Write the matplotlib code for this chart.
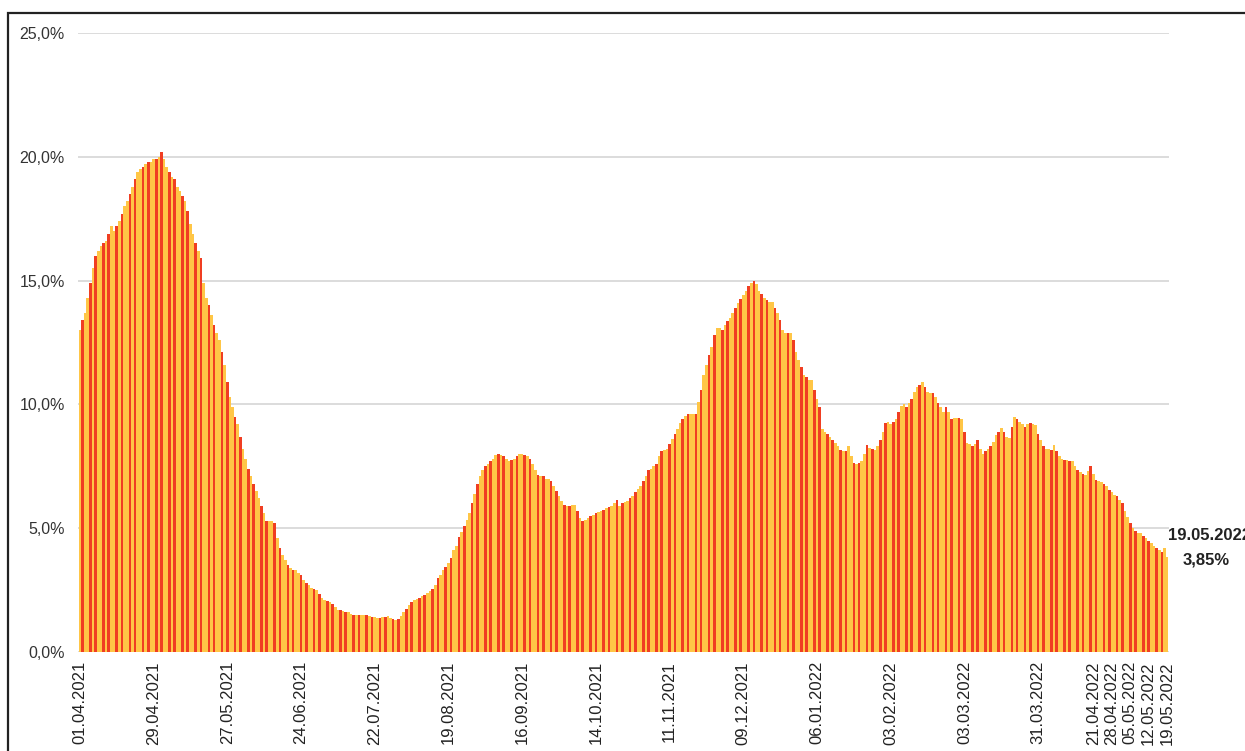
import numpy as np
import pandas as pd
import matplotlib
matplotlib.use("Agg")
import matplotlib.pyplot as plt
from matplotlib.ticker import FuncFormatter

# -------------------------------
# DATA (daily share, %, 01.04.2021 - 19.05.2022)
# -------------------------------
start_date = "2021-04-01"
share = [
    13.0, 13.4, 13.7, 14.3, 14.9, 15.5, 16.0,
    16.2, 16.4, 16.5, 16.6, 16.9, 17.2, 17.0,
    17.2, 17.4, 17.7, 18.0, 18.2, 18.5, 18.8,
    19.1, 19.4, 19.5, 19.6, 19.7, 19.8, 19.8,
    19.9, 19.9, 20.0, 20.2, 19.9, 19.6, 19.4,
    19.2, 19.1, 18.8, 18.6, 18.4, 18.2, 17.8,
    17.3, 16.9, 16.5, 16.2, 15.9, 14.9, 14.3,
    14.0, 13.6, 13.2, 12.9, 12.6, 12.1, 11.6,
    10.9, 10.3, 9.9, 9.5, 9.2, 8.7, 8.2,
    7.8, 7.4, 7.1, 6.8, 6.5, 6.2, 5.9,
    5.6, 5.3, 5.3, 5.3, 5.2, 4.6, 4.2,
    3.9, 3.7, 3.5, 3.4, 3.3, 3.3, 3.2,
    3.1, 2.9, 2.8, 2.7, 2.6, 2.55, 2.5,
    2.35, 2.2, 2.1, 2.05, 2.0, 1.95, 1.8,
    1.7, 1.7, 1.65, 1.6, 1.6, 1.55, 1.5,
    1.5, 1.5, 1.5, 1.5, 1.5, 1.45, 1.4,
    1.4, 1.37, 1.38, 1.4, 1.42, 1.45, 1.38,
    1.32, 1.3, 1.35, 1.45, 1.6, 1.75, 1.9,
    2.0, 2.1, 2.15, 2.2, 2.25, 2.3, 2.4,
    2.45, 2.55, 2.7, 3.0, 3.1, 3.3, 3.45,
    3.6, 3.8, 4.1, 4.3, 4.65, 4.85, 5.1,
    5.35, 5.6, 6.0, 6.4, 6.8, 7.1, 7.35,
    7.5, 7.6, 7.7, 7.8, 7.95, 8.0, 7.95,
    7.9, 7.8, 7.7, 7.75, 7.8, 7.9, 8.0,
    8.0, 7.95, 7.9, 7.8, 7.6, 7.35, 7.15,
    7.1, 7.1, 7.0, 7.0, 6.9, 6.7, 6.5,
    6.3, 6.1, 5.95, 5.9, 5.9, 5.95, 5.95,
    5.7, 5.4, 5.3, 5.35, 5.4, 5.5, 5.55,
    5.6, 5.65, 5.7, 5.75, 5.8, 5.85, 5.9,
    6.0, 6.15, 5.9, 6.0, 6.05, 6.1, 6.2,
    6.3, 6.45, 6.6, 6.7, 6.9, 7.1, 7.35,
    7.4, 7.5, 7.6, 7.9, 8.1, 8.15, 8.2,
    8.4, 8.6, 8.8, 9.0, 9.25, 9.4, 9.55,
    9.6, 9.6, 9.6, 9.6, 10.1, 10.6, 11.2,
    11.6, 12.0, 12.3, 12.8, 13.1, 13.1, 13.0,
    13.2, 13.35, 13.5, 13.7, 13.9, 14.1, 14.25,
    14.4, 14.6, 14.8, 14.9, 15.0, 14.85, 14.6,
    14.45, 14.3, 14.2, 14.15, 14.15, 13.9, 13.7,
    13.4, 13.0, 12.9, 12.9, 12.9, 12.6, 12.1,
    11.8, 11.5, 11.2, 11.1, 11.0, 11.0, 10.6,
    10.2, 9.9, 9.0, 8.9, 8.8, 8.7, 8.55,
    8.45, 8.3, 8.15, 8.1, 8.1, 8.3, 7.9,
    7.65, 7.6, 7.65, 7.7, 8.0, 8.35, 8.25,
    8.2, 8.15, 8.3, 8.55, 8.9, 9.25, 9.3,
    9.2, 9.3, 9.4, 9.7, 9.95, 10.0, 9.9,
    10.05, 10.2, 10.5, 10.7, 10.8, 10.9, 10.7,
    10.5, 10.45, 10.45, 10.3, 10.05, 9.9, 9.7,
    9.9, 9.7, 9.4, 9.45, 9.45, 9.45, 9.4,
    8.9, 8.45, 8.4, 8.3, 8.4, 8.55, 8.2,
    8.0, 8.1, 8.2, 8.3, 8.5, 8.75, 8.9,
    9.05, 8.9, 8.7, 8.65, 9.1, 9.5, 9.4,
    9.3, 9.2, 9.1, 9.2, 9.25, 9.2, 9.15,
    8.8, 8.55, 8.3, 8.2, 8.2, 8.15, 8.35,
    8.1, 7.9, 7.8, 7.75, 7.75, 7.7, 7.7,
    7.5, 7.35, 7.25, 7.2, 7.15, 7.3, 7.5,
    7.2, 6.95, 6.9, 6.85, 6.8, 6.7, 6.55,
    6.45, 6.35, 6.3, 6.15, 6.0, 5.7, 5.45,
    5.2, 5.0, 4.9, 4.8, 4.8, 4.7, 4.6,
    4.5, 4.4, 4.3, 4.2, 4.1, 4.05, 4.2,
    3.85,
]
tick_labels = [
    "01.04.2021", "29.04.2021", "27.05.2021", "24.06.2021", "22.07.2021",
    "19.08.2021", "16.09.2021", "14.10.2021", "11.11.2021", "09.12.2021",
    "06.01.2022", "03.02.2022", "03.03.2022", "31.03.2022", "21.04.2022",
    "28.04.2022", "05.05.2022", "12.05.2022", "19.05.2022",
]
yticks = [0, 5, 10, 15, 20, 25]

dates = pd.date_range(start_date, periods=len(share), freq="D").strftime("%d.%m.%Y").tolist()
x = np.arange(len(share))

# stripe pattern like the original rendering
yellow = "#FFC646"
red = "#F03E22"
pattern = [yellow, red, yellow, yellow, red]
colors = [pattern[i % len(pattern)] for i in x]

# -------------------------------
# VISUALIZATION
# -------------------------------
plt.rcParams["font.family"] = ["Liberation Sans", "DejaVu Sans"]
fig = plt.figure(figsize=(12.45, 7.51), dpi=100)
ax = fig.add_axes([78 / 1245, 1 - 652 / 751, (1169 - 78) / 1245, (652 - 33) / 751])

ax.bar(x, share, width=1.0, color=colors, linewidth=0, zorder=2)

ax.set_ylim(0, 25)
ax.set_xlim(-0.7, len(share) - 0.3)
ax.set_yticks(yticks)
ax.yaxis.set_major_formatter(FuncFormatter(lambda v, p: f"{v:.1f}%".replace(".", ",")))
ax.grid(axis="y", color="#d9d9d9", linewidth=1.3, zorder=0)
ax.set_axisbelow(True)

tick_pos = [dates.index(t) for t in tick_labels]
ax.set_xticks(tick_pos)
ax.set_xticklabels(tick_labels, rotation=90, fontsize=12, color="#222222")
ax.tick_params(axis="x", length=0, pad=6.5)
ax.tick_params(axis="y", length=0, pad=9.5, labelsize=11.5, labelcolor="#333333")

for s in ax.spines.values():
    s.set_visible(False)

# last value label
ax.annotate(dates[-1], xy=(x[-1], share[-1]), xytext=(1, 21), textcoords="offset pixels",
            fontsize=12, fontweight="bold", color="#222222", va="center", ha="left",
            annotation_clip=False)
ax.annotate(f"{share[-1]:.2f}%".replace(".", ","), xy=(x[-1], share[-1]), xytext=(15, -3),
            textcoords="offset pixels", fontsize=12, fontweight="bold", color="#222222",
            va="center", ha="left", annotation_clip=False)

# outer frame of the screenshot
frame = plt.Rectangle((8 / 1245, -0.2), 1.2, 1.2 - 13 / 751, transform=fig.transFigure,
                      fill=False, edgecolor="#222222", linewidth=1.6)
fig.patches.append(frame)

fig.savefig("out.png", dpi=100)
